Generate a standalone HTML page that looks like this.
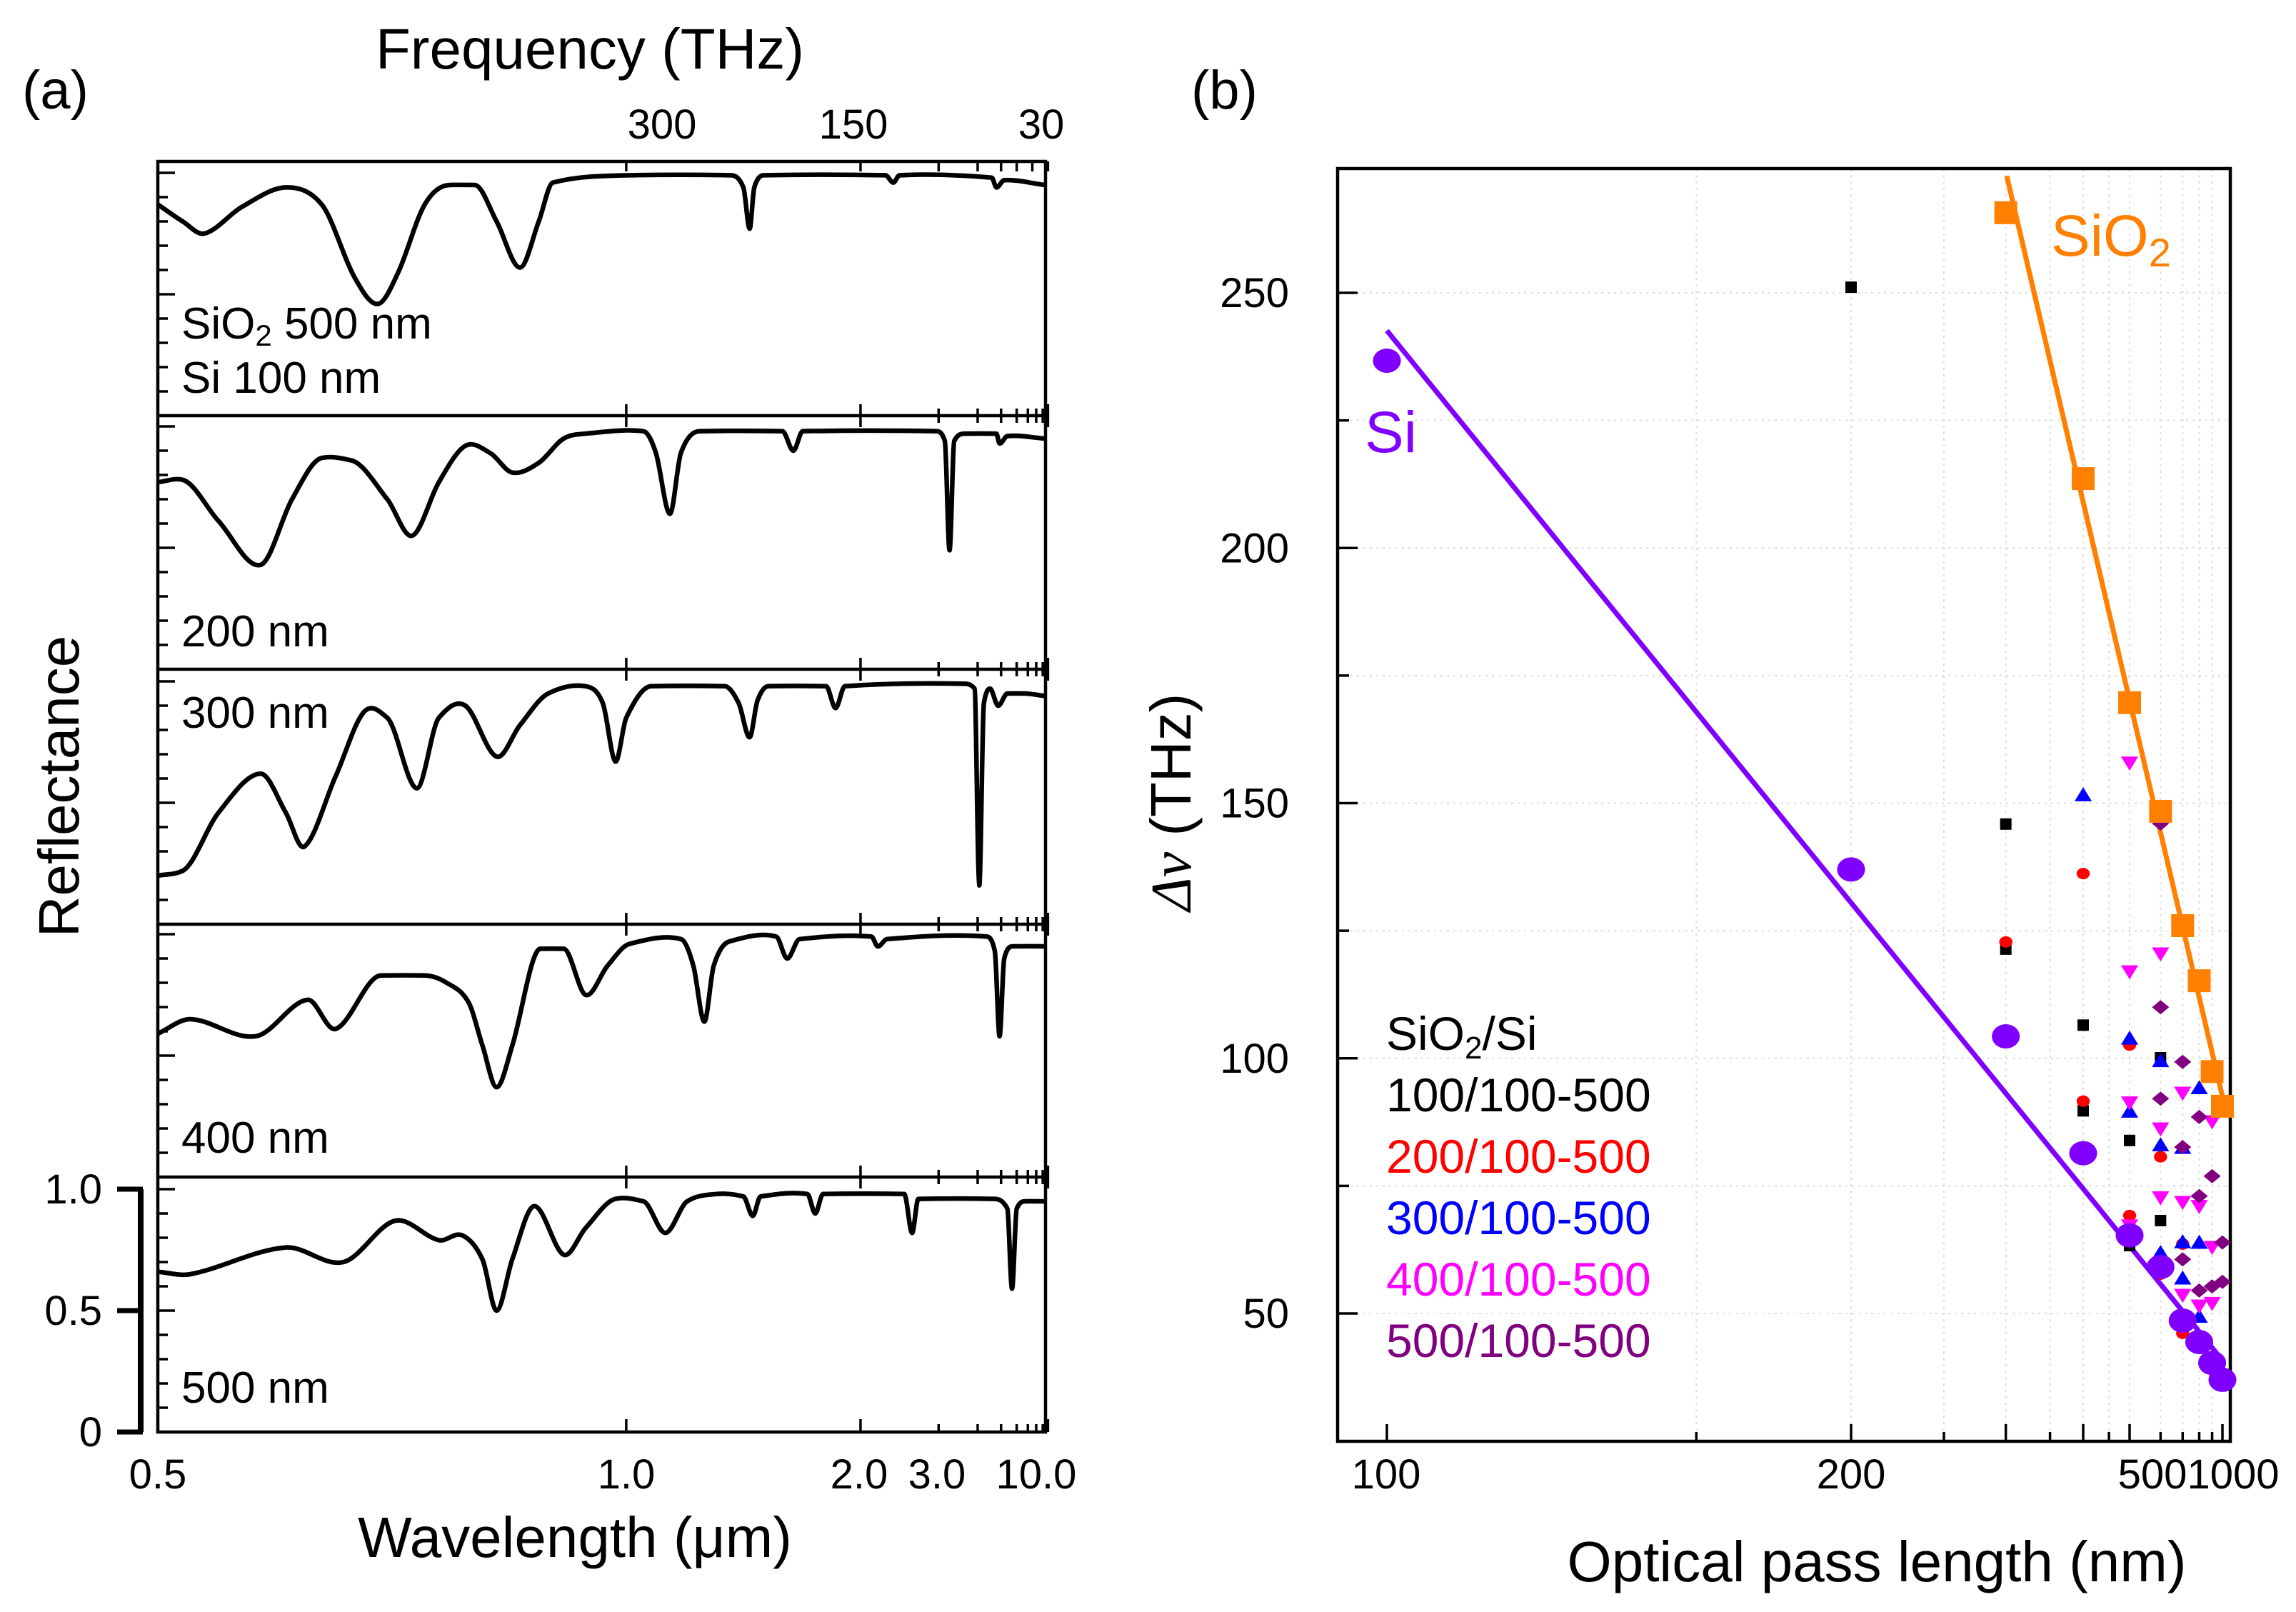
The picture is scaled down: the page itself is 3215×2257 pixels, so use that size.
<!DOCTYPE html>
<html><head><meta charset="utf-8"><style>
html,body{margin:0;padding:0;background:#fff;}
svg{display:block;font-family:"Liberation Sans",sans-serif;}
</style></head><body>
<svg id="fig" width="3215" height="2257" viewBox="0 0 3215 2257" xmlns="http://www.w3.org/2000/svg">
<rect x="0" y="0" width="3215" height="2257" fill="#fff"/>
<g id="pa"></g>
<g id="pb"></g>
</svg>
<script>
// ===== Panel (a) data: frequency (THz) vs reflectance =====
const p1F=[600,584,570,546,518,495,474,459,446,429,413,397,383,368,356,347,298,233,225,221,218,212,134,129,125,66,63,58,32];
const p1R=[.87,.80,.75,.86,.94,.87,.57,.46,.59,.87,.95,.95,.80,.61,.80,.96,.99,.99,.94,.77,.94,.99,.99,.96,.99,.98,.94,.97,.95];
const p2F=[600,584,561,534,514,495,476,453,437,420,403,387,373,356,340,326,289,281,272,265,253,200,193,187,101,96,93,90,84,63,61,56,32];
const p2R=[.77,.78,.61,.43,.70,.87,.86,.70,.55,.77,.92,.89,.81,.85,.95,.97,.98,.89,.64,.89,.98,.98,.90,.98,.98,.94,.49,.94,.97,.97,.93,.96,.95];
const p3F=[600,584,561,534,518,506,486,467,453,434,420,403,383,368,350,326,315,307,300,284,237,228,221,216,209,172,166,160,83,77,74,71,67,62,56,45,32];
const p3R=[.20,.22,.46,.62,.46,.32,.61,.88,.85,.56,.85,.90,.69,.82,.95,.98,.91,.67,.85,.98,.98,.91,.77,.92,.98,.98,.89,.98,.99,.97,.16,.91,.97,.90,.95,.95,.94];
const p4F=[600,579,537,504,486,457,429,415,401,392,383,373,355,340,326,312,298,265,257,250,244,234,204,197,189,143,139,133,69,64,61,58,53,32];
const p4R=[.59,.65,.58,.73,.61,.83,.83,.80,.72,.54,.37,.54,.94,.94,.75,.87,.96,.98,.87,.64,.87,.97,.99,.90,.98,.99,.95,.98,.99,.93,.58,.90,.95,.95];
const p5F=[600,579,518,481,448,420,405,392,383,373,359,340,326,307,289,275,261,242,225,219,214,184,179,174,122,117,113,64,56,53,50,45,32];
const p5R=[.66,.65,.76,.70,.87,.79,.81,.71,.50,.71,.93,.73,.84,.96,.95,.82,.95,.98,.97,.89,.97,.98,.90,.98,.98,.82,.96,.96,.92,.59,.92,.95,.95];
const aPanelLabels=["200 nm","300 nm","400 nm","500 nm"];
const bottomTickVals=[0.5,1.0,2.0,3.0,10.0];
const bottomTickText=["0.5","1.0","2.0","3.0","10.0"];
const topTickText=["300","150","30"];

// ===== Panel (b) data =====
const xTickVals=[100,200,500,1000];
const yTickVals=[50,100,150,200,250];
const siL=[100,200,300,400,500,600,700,800,900,1000];
const siV=[236.7,137,104.3,81.4,65.3,59.1,48.6,44.4,40.3,37];
const siFitL=[100,1000];
const siFitV=[242.6,40.8];
const sio2L=[300,400,500,600,700,800,900,1000];
const sio2V=[265.7,213.6,169.7,148.4,126,115.2,97.4,90.6];
const sio2FitL=[300.9,1000];
const sio2FitV=[272.9,92.5];
const s100L=[200,300,300,400,400,500,500,600,600];
const s100V=[251.1,145.9,121.4,106.5,89.7,83.9,63.3,100.1,68.2];
const s200L=[300,400,400,500,500,600,600,700,700,900];
const s200V=[122.8,136.2,91.6,102.6,69.2,80.7,57.7,63.6,46.1,39.5];
const s300L=[400,500,500,600,600,600,700,700,700,800,800,800];
const s300V=[151.6,103.9,89.6,99.5,83.0,61.9,82.5,64,56.9,94.2,63.9,49.4];
const s400L=[500,500,500,500,600,600,600,700,700,700,800,800,900,900,900];
const s400V=[157.9,117,91.3,67.2,120.5,86.2,72.7,93.2,71.8,53.6,71,51.5,87.6,63,52];
const s500L=[600,600,600,700,700,700,800,800,800,800,900,900,1000,1000];
const s500V=[146,110,92.1,99.3,82.6,60.6,88.5,73,54.5,45.2,76.9,55.3,63.9,56.2];

const NS="http://www.w3.org/2000/svg";
function mk(tag,attrs,parent,text){const e=document.createElementNS(NS,tag);for(const k in attrs)e.setAttribute(k,attrs[k]);if(text!==undefined)e.textContent=text;parent.appendChild(e);return e;}
const pa=document.getElementById('pa'), pb=document.getElementById('pb');

// ---------- Panel (a) ----------
const AX0=221, AX1=1464, AY0=226, AY1=2005;
const pBottoms=[582,937,1294,1648,2005];
const RS=340;
function fx(f){return 1533-2.187*f;}
function lx(l){return fx(300/l);}
// smooth cubic with catmull tangents, clamped to limit overshoot
function smoothPath(pts){
 const n=pts.length, dx=[], m=[], s=[];
 for(let i=0;i<n-1;i++){dx[i]=pts[i+1][0]-pts[i][0];s[i]=(pts[i+1][1]-pts[i][1])/dx[i];}
 m[0]=s[0];m[n-1]=s[n-2];
 for(let i=1;i<n-1;i++){
  let t=(pts[i+1][1]-pts[i-1][1])/(pts[i+1][0]-pts[i-1][0]);
  const lim=2.5*Math.min(Math.abs(s[i-1]),Math.abs(s[i]))+0.02;
  if(Math.abs(t)>lim) t=Math.sign(t)*lim;
  m[i]=t;}
 let d="M"+pts[0][0].toFixed(1)+","+pts[0][1].toFixed(1);
 for(let i=0;i<n-1;i++){const h=dx[i]/3;
  d+=" C"+(pts[i][0]+h).toFixed(1)+","+(pts[i][1]+m[i]*h).toFixed(1)+" "+(pts[i+1][0]-h).toFixed(1)+","+(pts[i+1][1]-m[i+1]*h).toFixed(1)+" "+pts[i+1][0].toFixed(1)+","+pts[i+1][1].toFixed(1);}
 return d;}
const curvesF=[p1F,p2F,p3F,p4F,p5F], curvesR=[p1R,p2R,p3R,p4R,p5R];
for(let i=0;i<5;i++){
 const b=pBottoms[i];
 const pts=curvesF[i].map((f,j)=>[fx(f),b-curvesR[i][j]*RS]).sort((a,c)=>a[0]-c[0]);
 const path=mk('path',{d:smoothPath(pts),fill:'none',stroke:'#000','stroke-width':6.5,'stroke-linejoin':'round'},pa);
 
 
 for(let k=1;k<=10;k++){const y=b-k*0.1*RS;const len=(k%5==0)?24:14;mk('line',{x1:AX0,y1:y,x2:AX0+len,y2:y,stroke:'#000','stroke-width':3.5},pa);}
}
for(let i=0;i<4;i++){const s=mk('line',{x1:AX0,y1:pBottoms[i],x2:AX1,y2:pBottoms[i],stroke:'#000','stroke-width':4.5},pa);
 
 [1,2,3,4,5,6,7,8,9,10].forEach(l=>{const x=lx(l);const len=(l==1||l==2||l==10)?16:10;mk('line',{x1:x,y1:pBottoms[i]-len,x2:x,y2:pBottoms[i]+len,stroke:'#000','stroke-width':3.5},pa);});
}
const boxA=mk('rect',{x:AX0,y:AY0,width:AX1-AX0,height:AY1-AY0,fill:'none',stroke:'#000','stroke-width':4.5},pa);

[1,2,3,4,5,6,7,8,9,10].forEach(l=>{const x=lx(l);const len=(l==1||l==2||l==10)?18:11;mk('line',{x1:x,y1:AY1,x2:x,y2:AY1-len,stroke:'#000','stroke-width':3.5},pa);});
const btX=[221,877,1203,1312,1451];
bottomTickVals.forEach((v,i)=>{const t=mk('text',{x:btX[i],y:2084,'font-size':58,'text-anchor':'middle'},pa,bottomTickText[i]);
 });
[300,150,100,75,60,50,40,30].forEach(f=>{const x=fx(f);mk('line',{x1:x,y1:AY0,x2:x,y2:AY0+14,stroke:'#000','stroke-width':3.5},pa);});
[927,1195,1458].forEach((x,i)=>{const t=mk('text',{x:x,y:194,'font-size':58,'text-anchor':'middle'},pa,topTickText[i]);
 });
let t=mk('text',{x:254,y:474,'font-size':62},pa);t.innerHTML='SiO<tspan font-size="42" dy="10">2</tspan><tspan dy="-10"> 500 nm</tspan>';

t=mk('text',{x:254,y:550,'font-size':62},pa,'Si 100 nm');
[905,1019,1614,1964].forEach((y,i)=>{const e=mk('text',{x:254,y:y,'font-size':62},pa,aPanelLabels[i]);
 });
mk('line',{x1:197,y1:1665,x2:197,y2:2005,stroke:'#000','stroke-width':8},pa);
[[1665,'1.0'],[1835,'0.5'],[2005,'0']].forEach(a=>{mk('line',{x1:164,y1:a[0],x2:200,y2:a[0],stroke:'#000','stroke-width':7},pa);
 const e=mk('text',{x:143,y:a[0]+20,'font-size':58,'text-anchor':'end'},pa,a[1]);});
t=mk('text',{x:826,y:96,'font-size':80,'text-anchor':'middle'},pa,'Frequency (THz)');
t=mk('text',{x:805,y:2180,'font-size':80,'text-anchor':'middle'},pa,'Wavelength (\u03bcm)');
t=mk('text',{x:0,y:0,'font-size':80,'text-anchor':'middle',transform:'translate(110,1101) rotate(-90)'},pa,'Reflectance');
t=mk('text',{x:31,y:152,'font-size':76},pa,'(a)');

// ---------- Panel (b) ----------
const BX0=1873, BX1=3123, BY0=236, BY1=2018;
function bx(L){return 3242-130000/L;}
function by(v){return 1839-(v-50)*7.145;}
const gridL=[150,200,250,300,350,400,450,500,600,700,800,900];
gridL.forEach(L=>mk('line',{x1:bx(L),y1:BY0,x2:bx(L),y2:BY1,stroke:'#ddd','stroke-width':2,'stroke-dasharray':'3,6'},pb));
for(let v=50;v<=250;v+=25)mk('line',{x1:BX0,y1:by(v),x2:BX1,y2:by(v),stroke:'#ddd','stroke-width':2,'stroke-dasharray':'3,6'},pb);
const boxB=mk('rect',{x:BX0,y:BY0,width:BX1-BX0,height:BY1-BY0,fill:'none',stroke:'#000','stroke-width':4.5},pb);

for(let v=50;v<=250;v+=25){mk('line',{x1:BX0,y1:by(v),x2:BX0+(v%50==0?28:16),y2:by(v),stroke:'#000','stroke-width':3.5},pb);}
[100,150,200,250,300,350,400,450,500,600,700,800,900,1000].forEach(L=>{const maj=[100,200,300,400,500,1000].includes(L);
 mk('line',{x1:bx(L),y1:BY1,x2:bx(L),y2:BY1-(maj?24:13),stroke:'#000','stroke-width':3.5},pb);});
const xLabX=[1941,2592,3014,3127];
xTickVals.forEach((v,i)=>{const e=mk('text',{x:xLabX[i],y:2084,'font-size':58,'text-anchor':'middle'},pb,String(v));
 });
yTickVals.forEach(v=>{const e=mk('text',{x:1805,y:by(v)+20,'font-size':58,'text-anchor':'end'},pb,String(v));
 });
let fl=mk('line',{x1:bx(siFitL[0]),y1:by(siFitV[0]),x2:bx(siFitL[1]),y2:by(siFitV[1]),stroke:'#7f00ff','stroke-width':7},pb);

fl=mk('line',{x1:bx(sio2FitL[0]),y1:by(sio2FitV[0]),x2:bx(sio2FitL[1]),y2:by(sio2FitV[1]),stroke:'#ff8000','stroke-width':7},pb);

function marker(type,cx,cy,s,col){
 if(type=='sq')return mk('rect',{x:cx-s,y:cy-s,width:2*s,height:2*s,fill:col},pb);
 if(type=='ci')return mk('ellipse',{cx:cx,cy:cy,rx:s*1.15,ry:s,fill:col},pb);
 if(type=='up')return mk('polygon',{points:`${cx},${cy-s} ${cx-s*1.1},${cy+s*0.8} ${cx+s*1.1},${cy+s*0.8}`,fill:col},pb);
 if(type=='dn')return mk('polygon',{points:`${cx},${cy+s} ${cx-s*1.1},${cy-s*0.8} ${cx+s*1.1},${cy-s*0.8}`,fill:col},pb);
 if(type=='di')return mk('polygon',{points:`${cx},${cy-s} ${cx+s*1.2},${cy} ${cx},${cy+s} ${cx-s*1.2},${cy}`,fill:col},pb);
}
const series=[[s100L,s100V,'sq','#000',8,'series-100'],[s200L,s200V,'ci','#f00',8,'series-200'],[s300L,s300V,'up','#00f',11,'series-300'],
 [s400L,s400V,'dn','#f0f',11,'series-400'],[s500L,s500V,'di','#800080',10,'series-500'],
 [sio2L,sio2V,'sq','#ff8000',16,'sio2-point'],[siL,siV,'ci','#8000ff',17,'si-point']];
series.forEach(s=>{s[0].forEach((L,i)=>{const m=marker(s[2],bx(L),by(s[1][i]),s[4],s[3]);
 
 });});
t=mk('text',{x:2872,y:358,'font-size':82,fill:'#ff8000'},pb);t.innerHTML='SiO<tspan font-size="56" dy="15">2</tspan>';

t=mk('text',{x:1911,y:633,'font-size':82,fill:'#8000ff'},pb,'Si');
t=mk('text',{x:1941,y:1470,'font-size':66,fill:'#000'},pb);t.innerHTML='SiO<tspan font-size="44" dy="12">2</tspan><tspan dy="-12">/Si</tspan>';

[['100/100-500','#000',1556],['200/100-500','#f00',1642],['300/100-500','#00f',1728],['400/100-500','#f0f',1814],['500/100-500','#800080',1900]].forEach(a=>{
 const e=mk('text',{x:1941,y:a[2],'font-size':66,fill:a[1]},pb,a[0]);});
t=mk('text',{x:2628,y:2214,'font-size':80,'text-anchor':'middle'},pb,'Optical pass length (nm)');
t=mk('text',{x:0,y:0,'font-size':80,'text-anchor':'middle',transform:'translate(1667,1123) rotate(-90)'},pb);
t.innerHTML='<tspan font-family="Liberation Serif" font-style="italic">\u0394\u03bd</tspan> (THz)';

t=mk('text',{x:1668,y:152,'font-size':76},pb,'(b)');
</script>
</body></html>
